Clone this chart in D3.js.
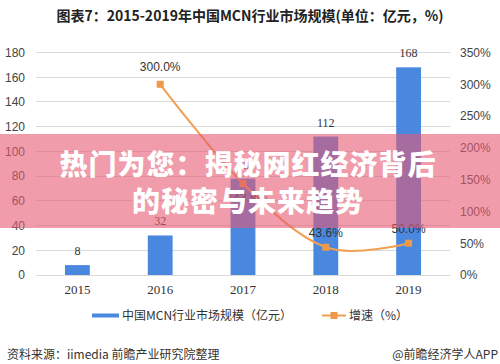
<!DOCTYPE html>
<html><head><meta charset="utf-8">
<script src="https://cdnjs.cloudflare.com/ajax/libs/d3/7.8.5/d3.min.js"></script>
<style>
body{margin:0;background:#fff;}
svg{display:block;}
</style></head>
<body><svg id="c" width="500" height="364"></svg>
<script>
const years = ["2015","2016","2017","2018","2019"];
const marketSize = [8, 32, 78, 112, 168];
const growth = [null, 300.0, 143.8, 43.6, 50.0];
const leftTicks = [0,20,40,60,80,100,120,140,160,180];
const rightTicks = [0,50,100,150,200,250,300,350];
const titleText = "图表7：2015-2019年中国MCN行业市场规模(单位：亿元，%)";
const legendBar = "中国MCN行业市场规模（亿元）";
const legendLine = "增速（%）";
const sourceText = "资料来源：iimedia 前瞻产业研究院整理";
const creditText = "@前瞻经济学人APP";
const overlayLines = ["热门为您：揭秘网红经济背后", "的秘密与未来趋势"];

const svg = d3.select("#c");
const cjk = "'Noto Sans CJK SC', 'Noto Sans', sans-serif";
const BLUE = "#4a88e0", ORANGE = "#f0a050", ORANGE_M = "#ee9848";

const x = d3.scaleBand().domain(years).range([36, 450]).paddingInner(0.7).paddingOuter(0.35);
const yL = d3.scaleLinear().domain([0,180]).range([275, 52.5]);
const yR = d3.scaleLinear().domain([0,350]).range([275, 52.5]);

// title
svg.append("text").attr("x", 250).attr("y", 21).attr("text-anchor","middle")
  .attr("font-family", cjk).attr("font-weight", 700).attr("font-size", 14).attr("fill","#222")
  .text(titleText);

// gridlines
svg.append("g").selectAll("line").data(leftTicks).join("line")
  .attr("x1", 36).attr("x2", 450).attr("y1", d=>yL(d)).attr("y2", d=>yL(d))
  .attr("stroke", "#d9d9d9").attr("stroke-width", 1).attr("shape-rendering","crispEdges");

// left axis
const axL = svg.append("g").attr("transform","translate(36,0)")
  .call(d3.axisLeft(yL).tickValues(leftTicks).tickSize(0).tickPadding(11));
axL.select(".domain").remove();
axL.selectAll("text").attr("font-family","'Liberation Sans', Arial, sans-serif").attr("font-size",12).attr("fill","#444");

// right axis
const axR = svg.append("g").attr("transform","translate(450,0)")
  .call(d3.axisRight(yR).tickValues(rightTicks).tickSize(0).tickPadding(10).tickFormat(d=>d+"%"));
axR.select(".domain").remove();
axR.selectAll("text").attr("font-family","'Liberation Sans', Arial, sans-serif").attr("font-size",12).attr("fill","#444");

// x axis labels
const axX = svg.append("g").attr("transform","translate(0,275)")
  .call(d3.axisBottom(x).tickSize(0).tickPadding(10));
axX.select(".domain").remove();
axX.selectAll("text").attr("font-family","'Liberation Serif', serif").attr("font-size",13).attr("fill","#333");

// bars
svg.append("g").selectAll("rect").data(years).join("rect")
  .attr("x", d=>x(d)).attr("width", x.bandwidth())
  .attr("y", (d,i)=>yL(marketSize[i])).attr("height",(d,i)=>yL(0)-yL(marketSize[i]))
  .attr("fill", BLUE);

// bar labels
svg.append("g").selectAll("text").data(years).join("text")
  .attr("x", d=>x(d)+x.bandwidth()/2).attr("y",(d,i)=>yL(marketSize[i])-10)
  .attr("text-anchor","middle").attr("font-family","'Liberation Serif', serif")
  .attr("font-size",12).attr("fill","#333").text((d,i)=>marketSize[i]);

// growth line
const pts = years.map((d,i)=>({year:d, v:growth[i]})).filter(p=>p.v!==null);
const line = d3.line().x(p=>x(p.year)+x.bandwidth()/2).y(p=>yR(p.v)).curve(d3.curveCardinal.tension(0));
svg.append("path").datum(pts).attr("d", line).attr("fill","none").attr("stroke",ORANGE).attr("stroke-width",2);
svg.append("g").selectAll("rect").data(pts).join("rect")
  .attr("x", p=>x(p.year)+x.bandwidth()/2-3.5).attr("y", p=>yR(p.v)-3.5)
  .attr("width",7).attr("height",7).attr("fill",ORANGE_M);
svg.append("g").selectAll("text").data(pts).join("text")
  .attr("x", p=>x(p.year)+x.bandwidth()/2 + (p.year==="2017"?4:0))
  .attr("y", p=> p.year==="2017" ? yR(p.v)+18 : yR(p.v)-(p.year==="2016"?13:10))
  .attr("text-anchor","middle").attr("font-family","'Liberation Sans', Arial, sans-serif")
  .attr("font-size",12).attr("fill","#333").text(p=>p.v.toFixed(1)+"%");

// legend
svg.append("rect").attr("x",92).attr("y",313.5).attr("width",27).attr("height",4).attr("fill",BLUE);
svg.append("text").attr("x",122).attr("y",320).attr("font-family",cjk).attr("font-size",12).attr("fill","#333").text(legendBar);
svg.append("line").attr("x1",322).attr("x2",346).attr("y1",315.5).attr("y2",315.5).attr("stroke",ORANGE).attr("stroke-width",2);
svg.append("rect").attr("x",330.5).attr("y",312).attr("width",7).attr("height",7).attr("fill",ORANGE_M);
svg.append("text").attr("x",349).attr("y",320).attr("font-family",cjk).attr("font-size",12).attr("fill","#333").text(legendLine);

// source
svg.append("text").attr("x",7).attr("y",359).attr("font-family",cjk).attr("font-size",12).attr("fill","#333").text(sourceText);
svg.append("text").attr("x",498).attr("y",359).attr("text-anchor","end").attr("font-family",cjk).attr("font-size",12).attr("fill","#333").text(creditText);

// overlay banner
svg.append("rect").attr("x",0).attr("y",134).attr("width",500).attr("height",94)
  .attr("fill","rgb(230,90,115)").attr("fill-opacity",0.6);
svg.append("g").selectAll("text").data(overlayLines).join("text")
  .attr("x",248).attr("y",(d,i)=>175 + i*37).attr("text-anchor","middle")
  .attr("font-family",cjk).attr("font-weight",900).attr("font-size",28).attr("fill","#fff")
  .attr("letter-spacing",1)
  .text(d=>d);
</script></body></html>
